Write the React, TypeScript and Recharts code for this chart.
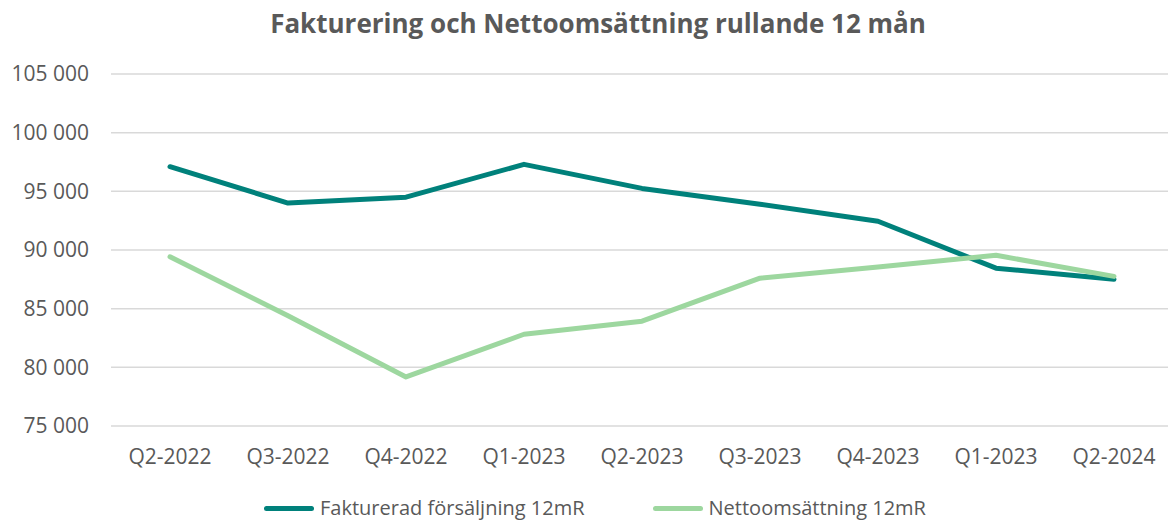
import { CartesianGrid, Line, LineChart, XAxis, YAxis } from "recharts";

const quarters = [
  "Q2-2022",
  "Q3-2022",
  "Q4-2022",
  "Q1-2023",
  "Q2-2023",
  "Q3-2023",
  "Q4-2023",
  "Q1-2023",
  "Q2-2024",
];
const fakturerad = [97100, 94000, 94500, 97300, 95250, 93900, 92450, 88450, 87500];
const netto = [89420, 84400, 79180, 82820, 83930, 87600, 88550, 89550, 87750];
const yTicks = [75000, 80000, 85000, 90000, 95000, 100000, 105000];

const SERIES = [
  { key: "fakturerad", name: "Fakturerad försäljning 12mR", color: "#00817b" },
  { key: "netto", name: "Nettoomsättning 12mR", color: "#9dd79f" },
];

const TEXT = "#595959";
const FONT = '"Open Sans", "Noto Sans", sans-serif';

const data = quarters.map((q, i) => ({ quarter: q, fakturerad: fakturerad[i], netto: netto[i] }));

const fmt = (v: number) => String(v).replace(/\B(?=(\d{3})+(?!\d))/g, " ");

export default function App() {
  return (
    <div
      style={{
        position: "absolute",
        left: 0,
        top: 0,
        width: 1168,
        height: 521,
        background: "#fff",
        fontFamily: FONT,
        overflow: "hidden",
      }}
    >
      <div
        style={{
          position: "absolute",
          top: 10,
          left: 0,
          width: 1196,
          textAlign: "center",
          fontSize: 26,
          lineHeight: "26px",
          fontWeight: 700,
          color: TEXT,
        }}
      >
        Fakturering och Nettoomsättning rullande 12 mån
      </div>

      <LineChart width={1168} height={521} data={data} margin={{ top: 74, right: -5, left: 0, bottom: 55 }}>
        <CartesianGrid horizontal vertical={false} stroke="#d9d9d9" strokeWidth={1.5} />
        <XAxis
          dataKey="quarter"
          height={40}
          axisLine={false}
          tickLine={false}
          tickMargin={17}
          interval={0}
          padding={{ left: 59, right: 59 }}
          tick={{ fill: TEXT, fontSize: 21, fontFamily: FONT }}
        />
        <YAxis
          width={111}
          domain={[75000, 105000]}
          ticks={yTicks}
          axisLine={false}
          tickLine={false}
          tickMargin={16}
          tickFormatter={fmt}
          tick={{ fill: TEXT, fontSize: 21, fontFamily: FONT }}
        />
        {SERIES.map((s) => (
          <Line
            key={s.key}
            dataKey={s.key}
            name={s.name}
            stroke={s.color}
            strokeWidth={5}
            strokeLinecap="round"
            strokeLinejoin="round"
            dot={false}
            activeDot={false}
            isAnimationActive={false}
          />
        ))}
      </LineChart>

      <div
        style={{
          position: "absolute",
          top: 496,
          left: 0,
          width: 1168,
          height: 24,
          display: "flex",
          justifyContent: "center",
          alignItems: "center",
          gap: 68,
          fontSize: 20,
          lineHeight: "24px",
          color: TEXT,
          paddingLeft: 22,
          boxSizing: "border-box",
        }}
      >
        {SERIES.map((s) => (
          <div key={s.key} style={{ display: "flex", alignItems: "center" }}>
            <span
              style={{
                display: "inline-block",
                width: 50,
                height: 5,
                borderRadius: 3,
                background: s.color,
                marginRight: 6,
              }}
            />
            <span>{s.name}</span>
          </div>
        ))}
      </div>
    </div>
  );
}
